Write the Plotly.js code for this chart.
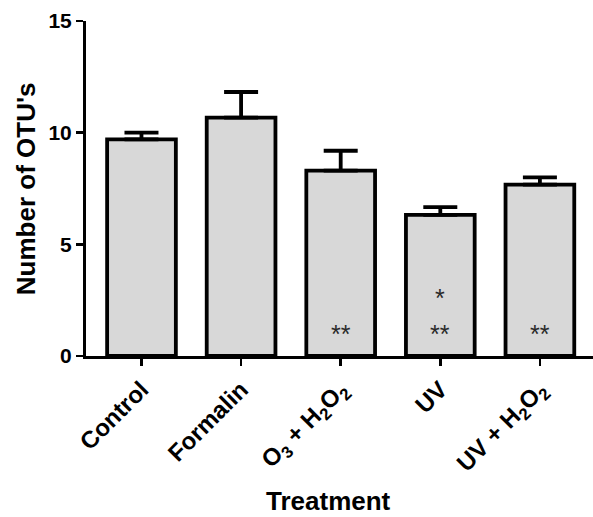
<!DOCTYPE html>
<html>
<head>
<meta charset="utf-8">
<script src="https://cdn.plot.ly/plotly-3.0.1.min.js"></script>
<style>html,body{margin:0;padding:0;background:#fff;}#chart{width:593px;height:517px;}</style>
</head>
<body>
<div id="chart"></div>
<script>
// Data
const categories = ["Control", "Formalin", "O<sub>3</sub> + H<sub>2</sub>O<sub>2</sub>", "UV", "UV + H<sub>2</sub>O<sub>2</sub>"];
const meanOTUs = [9.7, 10.67, 8.3, 6.32, 7.67];
const errorUp = [0.3, 1.15, 0.89, 0.35, 0.33];
const yTicks = [0, 5, 10, 15];
// significance markers: category index, y value, text
const sigCats = [2, 3, 3, 4];
const sigY = [1.0, 1.0, 2.6, 1.0];
const sigText = ["**", "**", "*", "**"];

const font = "Arial, 'Liberation Sans', sans-serif";
const xIdx = categories.map((c, i) => i);

const trace = {
  type: "bar",
  x: xIdx,
  y: meanOTUs,
  width: 0.69,
  marker: {color: "#d8d8d8", line: {color: "#000", width: 3.8}},
  error_y: {type: "data", symmetric: false, array: errorUp, arrayminus: errorUp.map(() => 0),
            color: "#000", thickness: 3.8, width: 17},
  hoverinfo: "none"
};

const annotations = sigCats.map((c, i) => ({
  x: c, y: sigY[i], xref: "x", yref: "y", text: sigText[i], showarrow: false,
  xanchor: "center", yanchor: "middle",
  font: {family: font, size: 25, color: "#2a2a2a"}
}));
annotations.push({
  x: 0.479, y: -0.433, xref: "paper", yref: "paper", text: "<b>Treatment</b>", showarrow: false,
  xanchor: "center", yanchor: "middle",
  font: {family: font, size: 26, color: "#000"}
});
annotations.push({
  x: -0.118, y: 0.4985, xref: "paper", yref: "paper", text: "<b>Number of OTU's</b>", showarrow: false,
  xanchor: "center", yanchor: "middle",
  textangle: -90, font: {family: font, size: 26, color: "#000"}
});

const layout = {
  width: 593, height: 517,
  margin: {l: 86, r: 0, t: 21, b: 161},
  paper_bgcolor: "#fff", plot_bgcolor: "#fff",
  showlegend: false,
  xaxis: {
    range: [-0.557, 4.533], tickmode: "array", tickvals: xIdx,
    ticktext: categories.map(c => "<b>" + c + "</b>"),
    tickangle: -45, ticks: "outside", ticklen: 7, tickwidth: 2.5, tickcolor: "#000",
    showline: true, linecolor: "#000", linewidth: 3, showgrid: false, zeroline: false,
    tickfont: {family: font, size: 24, color: "#000"}, fixedrange: true, automargin: false
  },
  yaxis: {
    range: [0, 15], tickmode: "array", tickvals: yTicks,
    ticktext: yTicks.map(v => "<b>" + v + "</b>"),
    ticks: "outside", ticklen: 7, tickwidth: 2.5, tickcolor: "#000",
    showline: true, linecolor: "#000", linewidth: 3, showgrid: false, zeroline: false,
    tickfont: {family: font, size: 21, color: "#000"}, fixedrange: true, automargin: false
  },
  annotations: annotations
};

Plotly.newPlot("chart", [trace], layout, {displayModeBar: false, staticPlot: true});
</script>
</body>
</html>
